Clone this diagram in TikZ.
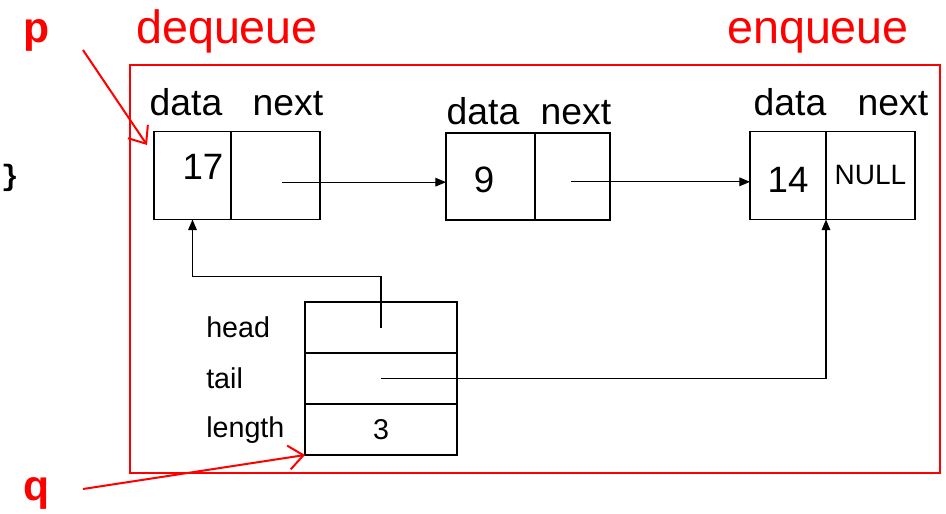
\documentclass[tikz,border=0pt]{standalone}
\usepackage{fontspec}
\setmainfont{Liberation Sans}
\newfontfamily\codefont{Liberation Mono}
\usetikzlibrary{arrows.meta, positioning}
\definecolor{qred}{HTML}{FF0000}

\begin{document}
\begin{tikzpicture}[x=0.75pt, y=-0.75pt,
      cell/.style={draw, line width=0.9pt, minimum height=66pt, inner sep=0pt,
                   outer sep=0pt, font=\fontsize{27.5}{27.5}\selectfont},
      row/.style={draw, line width=0.9pt, minimum width=114pt, minimum height=38.25pt,
                  inner sep=0pt, outer sep=0pt, font=\fontsize{21.5}{21.5}\selectfont},
      fld/.style={anchor=base, inner sep=0pt, font=\fontsize{28}{28}\selectfont},
      lbl/.style={anchor=west, inner sep=0pt, font=\fontsize{21.5}{21.5}\selectfont},
      ttl/.style={anchor=base, inner sep=0pt, qred, font=\fontsize{35}{35}\selectfont},
      ptr/.style={line width=0.9pt, -{Triangle[length=8pt, width=6.5pt]}},
      rptr/.style={qred, line width=1.5pt, -{Straight Barb[length=11pt, width=18pt]}}]
    \useasboundingbox (0,0) rectangle (946,514);

    % titles and pointer names
    \node[ttl, font=\fontsize{32}{32}\selectfont\bfseries] (p) at (37,42) {p};
    \node[ttl, font=\fontsize{32}{32}\selectfont\bfseries] (q) at (37,500) {q};
    \node[ttl] (deq) at (227,43) {dequeue};
    \node[ttl] (enq) at (818,43) {enqueue};
    \node[inner sep=0pt, font=\fontsize{22}{22}\selectfont\codefont\bfseries] (brace) at (10,178) {\}};

    \draw[qred, line width=1.5pt] (130,65) rectangle (940,473);

    % list nodes
    \node[cell, minimum width=57.75pt] (n1d) at (192.5,175.5) {};
    \node[inner sep=0pt, font=\fontsize{27.5}{27.5}\selectfont] (v1) at (203,167) {17};
    \node[cell, minimum width=66.75pt, right=0pt of n1d] (n1n) {};
    \node[cell, minimum width=66.75pt, minimum height=65.25pt] (n2d) at (490.5,176.5) {};
    \node[inner sep=0pt, font=\fontsize{27.5}{27.5}\selectfont] (v2) at (484,180) {9};
    \node[cell, minimum width=56.25pt, minimum height=65.25pt, right=0pt of n2d] (n2n) {};
    \node[cell, minimum width=57pt] (n3d) at (788,175.5) {};
    \node[inner sep=0pt, font=\fontsize{27.5}{27.5}\selectfont] (v3) at (788,180) {14};
    \node[cell, minimum width=66.75pt, right=0pt of n3d,
          font=\fontsize{21}{21}\selectfont] (n3n) {NULL};

    \node[fld] (d1) at (186,115) {data};
    \node[fld] (x1) at (288,115) {next};
    \node[fld] (d2) at (483,124) {data};
    \node[fld] (x2) at (576,124) {next};
    \node[fld] (d3) at (790,115) {data};
    \node[fld] (x3) at (893,115) {next};

    % queue record
    \node[row] (hd) at (381,327.5) {};
    \node[row, below=0pt of hd] (tl) {};
    \node[row, below=0pt of tl] (len) {3};
    \node[lbl] (lhd) at (206,327) {head};
    \node[lbl] (ltl) at (206,378) {tail};
    \node[lbl] (llen) at (206,430) {length};

    % links
    \draw[ptr] ([xshift=5pt, yshift=-5pt]n1n.center) -- ([yshift=-5pt]n1n.center -| n2d.west);
    \draw[ptr] ([xshift=-1pt, yshift=-4pt]n2n.center) -- ([yshift=-4pt]n2n.center -| n3d.west);
    \draw[ptr] (hd.center) -- ++(0,-51) -| (n1d.south);
    \draw[ptr] (tl.center) -| (n3d.south east);

    \coordinate (ptail) at (83,50);
    \coordinate (ptip) at (147,145);
    \coordinate (qtail) at (83,489);
    \draw[rptr] (ptail) -- (ptip);
    \draw[rptr] (qtail) -- (len.south west);
\end{tikzpicture}
\end{document}
